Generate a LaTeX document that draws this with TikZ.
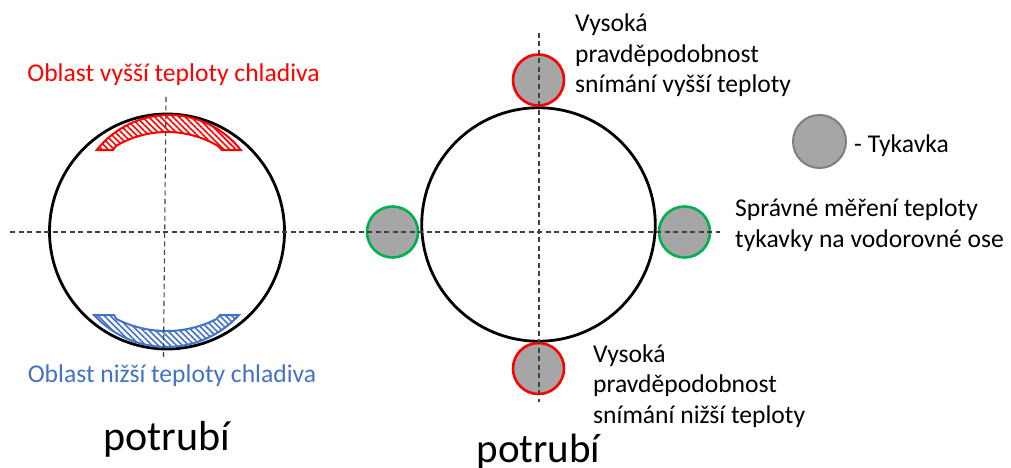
\documentclass[tikz,border=0pt]{standalone}
\usepackage{fontspec}
\setmainfont{Carlito}
\usetikzlibrary{patterns.meta}
\definecolor{ared}{HTML}{FF0000}
\definecolor{agreen}{HTML}{00B050}
\definecolor{agray}{HTML}{A6A6A6}
\definecolor{agrayline}{HTML}{7F7F7F}
\definecolor{ablue}{HTML}{4472C4}
\definecolor{axiscol}{HTML}{404040}
\begin{document}
\begin{tikzpicture}[x=1pt,y=1pt,
  pipe/.style={circle, draw=black, line width=2.8pt, inner sep=0pt},
  sensor/.style={circle, fill=agray, line width=2.6pt, inner sep=0pt, minimum size=51pt},
  band/.style={line width=2pt, preaction={fill=white},
    pattern={Lines[angle=-45, distance=4.3pt, line width=1.6pt]}},
  axisline/.style={draw=axiscol, line width=1.1pt, dash pattern=on 5pt off 3.5pt},
  lbl/.style={font=\fontsize{25.6}{30.5}\selectfont, inner sep=0pt, align=left},
  big/.style={font=\fontsize{42}{50}\selectfont, inner sep=0pt}]
\useasboundingbox (0,0) rectangle (1011,467);
\fill[white] (0,0) rectangle (1011,467);

% pipes
\node[pipe, minimum size=235pt] (pipeL) at (167,235.5) {};
\node[pipe, minimum size=233.5pt] (pipeR) at (538.5,242.5) {};

% hot region (red)
\path[band, draw=ared, pattern color=ared]
  (96.8,317) arc[start angle=141.8, end angle=38.2, radius=91.6]
  -- (222,317) -- (218,321)
  arc[start angle=59.3, end angle=120.7, radius=99.9]
  -- (113,317) -- cycle;
% cold region (blue)
\path[band, draw=ablue, pattern color=ablue]
  (94.1,152) arc[start angle=222.4, end angle=317.6, radius=98.1]
  -- (220,152) -- (216.5,148)
  arc[start angle=297, end angle=243, radius=110.2]
  -- (114,152) -- cycle;

% sensors
\node[sensor, draw=ared] (sTop) at (538.5,387) {};
\node[sensor, draw=ared] (sBot) at (538.5,98.5) {};
\node[sensor, draw=agreen] (sLeft) at (392.5,235) {};
\node[sensor, draw=agreen] (sRight) at (684.5,235) {};
\node[sensor, draw=agrayline, line width=2pt, minimum size=53pt] (sLeg) at (819.5,325.5) {};

% axes
\coordinate (hA) at (10,235);
\coordinate (hB) at (720,235);
\coordinate (vLa) at (166,370);
\coordinate (vLb) at (163.5,110);
\coordinate (vRa) at (539,434);
\coordinate (vRb) at (539,65);
\draw[axisline] (hA) -- (hB);
\draw[axisline] (vLa) -- (vLb);
\draw[axisline] (vRa) -- (vRb);

% texts
\node[lbl, text=ared, anchor=base] (tHot) at (173.5,385) {Oblast vyšší teploty chladiva};
\node[lbl, text=ablue, anchor=base] (tCold) at (172,85) {Oblast nižší teploty chladiva};
\node[big, anchor=base] (tPipeL) at (166.5,17) {potrubí};
\node[big, font=\fontsize{41}{50}\selectfont, anchor=base] (tPipeR) at (538.5,5) {potrubí};
\node[lbl, anchor=base west] (tTop) at (575,374) {Vysoká\\pravděpodobnost\\snímání vyšší teploty};
\node[lbl, anchor=base west] (tBot) at (593,44) {Vysoká\\pravděpodobnost\\snímání nižší teploty};
\node[lbl, anchor=base west] (tLeg) at (854,315) {- Tykavka};
\node[lbl, anchor=base west] (tHor) at (735,220) {Správné měření teploty\\tykavky na vodorovné ose};
\end{tikzpicture}
\end{document}
